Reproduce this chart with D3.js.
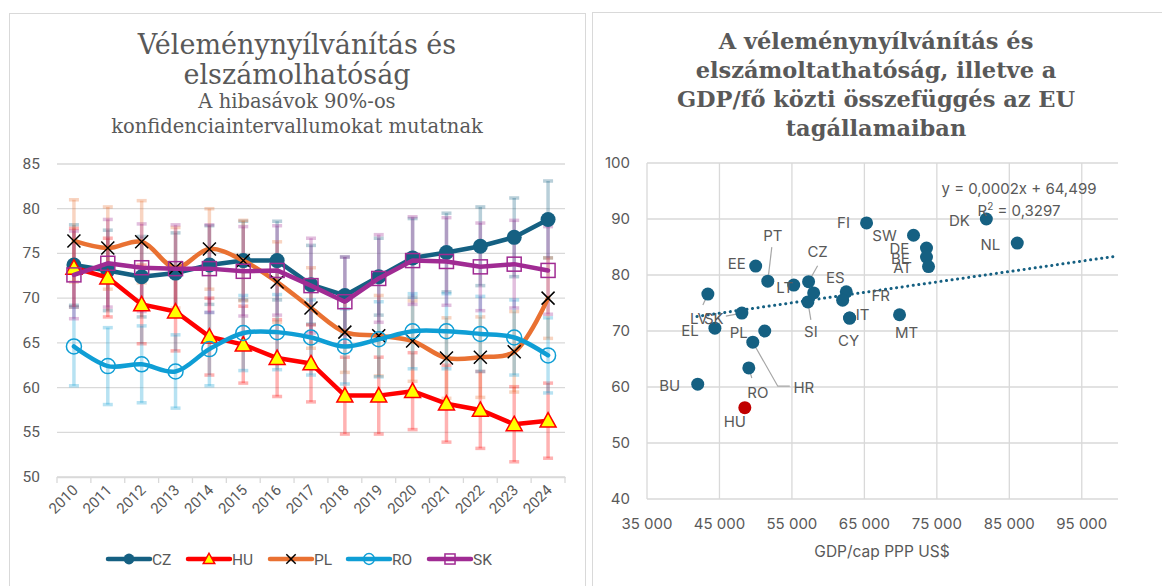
<!DOCTYPE html>
<html>
<head>
<meta charset="utf-8">
<script src="https://cdn.jsdelivr.net/npm/d3@7"></script>
<style>
body { margin: 0; background: #fff; }
text { fill: #595959; }
</style>
</head>
<body>
<div id="chart"></div>
<script>
var years = ["2010","2011","2012","2013","2014","2015","2016","2017","2018","2019","2020","2021","2022","2023","2024"]
var czVals = [73.7,73.1,72.4,72.8,73.7,74.2,74.2,71.5,70.3,72.4,74.5,75.1,75.8,76.8,78.8]
var huVals = [73.4,72.3,69.3,68.5,65.7,64.8,63.3,62.7,59.1,59.1,59.6,58.2,57.5,55.9,56.3]
var plVals = [76.4,75.6,76.3,73.4,75.5,74.2,71.8,68.9,66.2,65.8,65.2,63.3,63.4,64.0,70.0]
var roVals = [64.6,62.4,62.6,61.8,64.3,66.1,66.2,65.6,64.6,65.4,66.3,66.3,66.0,65.6,63.6]
var skVals = [72.6,73.9,73.4,73.3,73.3,73.0,73.1,71.4,69.6,72.2,74.2,74.1,73.5,73.8,73.1]
var czErr = [4.5,4.5,4.5,4.5,4.4,4.4,4.4,4.4,4.3,4.3,4.4,4.4,4.4,4.4,4.3]
var huErr = [4.4,4.4,4.4,4.4,4.3,4.3,4.3,4.3,4.3,4.3,4.3,4.3,4.3,4.2,4.2]
var plErr = [4.6,4.6,4.6,4.5,4.5,4.5,4.5,4.5,4.5,4.5,4.5,4.5,4.5,4.5,4.5]
var roErr = [4.4,4.3,4.3,4.1,4.1,4.2,4.2,4.2,4.2,4.2,4.2,4.2,4.2,4.2,4.2]
var skErr = [4.9,4.9,4.9,4.9,4.9,5.0,5.0,5.3,5.0,4.9,4.9,4.9,4.9,4.9,4.9]
var leftTicks = [50,55,60,65,70,75,80,85]

var countries = ["BU","HU","RO","HR","PL","SK","EL","LV","EE","PT","LT","CZ","SI","","ES","FR","IT","CY","MT","FI","SW","DE","BE","AT","DK","NL"]
var gdpVals = [42000,48500,49050,49600,51250,48090,44370,43400,50000,51670,55250,57300,57200,58000,62500,62000,62960,62960,69850,65300,71780,73570,73570,73850,81830,86100]
var voiceVals = [60.5,56.3,63.4,68.0,70.0,73.2,70.5,76.6,81.6,78.9,78.2,78.8,75.2,76.8,77.0,75.5,72.3,72.3,72.9,89.3,87.1,84.8,83.2,81.5,90.0,85.7]
var rightXTicks = [35000,45000,55000,65000,75000,85000,95000]
var rightYTicks = [40,50,60,70,80,90,100]
var trendSlope = 0.000186
var trendIntercept = 64.81
var trendX = [41900,100000]

// label placement (dx, dy from the point, optional leader end)
var labelPos = {
    BU: {dx:-28, dy:1}, HU: {dx:-10, dy:14}, RO: {dx:9, dy:25, lead:[3,10]},
    HR: {dx:51, dy:45, bend:[25,44], lead:[37,44]}, PL: {dx:-26, dy:1},
    SK: {dx:-28, dy:5, lead:[-16,3]}, EL: {dx:-25, dy:2}, LV: {dx:-9, dy:24, lead:[-5,11]},
    EE: {dx:-19, dy:-3}, PT: {dx:5, dy:-46, lead:[4,-34]}, LT: {dx:-9, dy:2},
    CZ: {dx:9, dy:-30, lead:[9,-16]}, SI: {dx:3, dy:30, lead:[3,18]},
    ES: {dx:-11, dy:-14}, FR: {dx:38, dy:-5}, IT: {dx:13, dy:-4}, CY: {dx:-1, dy:22},
    MT: {dx:7, dy:18}, FI: {dx:-23, dy:0}, SW: {dx:-29, dy:0}, DE: {dx:-27, dy:0},
    BE: {dx:-26, dy:1}, AT: {dx:-26, dy:1}, DK: {dx:-27, dy:1}, NL: {dx:-27, dy:1}
}

var series = [
    {name:"CZ", vals:czVals, err:czErr, color:"#156082", marker:"dot", smooth:false},
    {name:"HU", vals:huVals, err:huErr, color:"#FF0000", marker:"tri", smooth:false},
    {name:"PL", vals:plVals, err:plErr, color:"#E97132", marker:"x", smooth:true},
    {name:"RO", vals:roVals, err:roErr, color:"#0F9ED5", marker:"ring", smooth:true},
    {name:"SK", vals:skVals, err:skErr, color:"#A02B93", marker:"sq", smooth:false}
]

var svg = d3.select("#chart").append("svg").attr("width", 1162).attr("height", 586)

svg.append("rect").attr("x", 9.5).attr("y", 13.5).attr("width", 576).attr("height", 600)
    .attr("fill", "none").attr("stroke", "#d9d9d9")
svg.append("rect").attr("x", 592.5).attr("y", 12.5).attr("width", 600).attr("height", 600)
    .attr("fill", "none").attr("stroke", "#d9d9d9")

// ---- left chart
var x = d3.scaleBand().domain(years).range([57, 565])
var y = d3.scaleLinear().domain([50, 85]).range([477, 164])

var lt = svg.append("g").attr("font-family", "'DejaVu Serif', serif").attr("text-anchor", "middle")
lt.append("text").attr("x", 297).attr("y", 54).attr("font-size", 27).text("Véleménynyílvánítás és")
lt.append("text").attr("x", 297).attr("y", 84).attr("font-size", 27).text("elszámolhatóság")
lt.append("text").attr("x", 297).attr("y", 108).attr("font-size", 19.5).text("A hibasávok 90%-os")
lt.append("text").attr("x", 297).attr("y", 133).attr("font-size", 19.5).text("konfidenciaintervallumokat mutatnak")

svg.append("g").selectAll("line").data(leftTicks).enter().append("line")
    .attr("x1", 57).attr("x2", 565).attr("y1", function(d){return y(d)}).attr("y2", function(d){return y(d)})
    .attr("stroke", "#d9d9d9").attr("stroke-width", 1.3)

svg.append("g").selectAll("text").data(leftTicks).enter().append("text")
    .attr("x", 40).attr("y", function(d){return y(d) + 5})
    .attr("text-anchor", "end").attr("font-family", "Roboto, sans-serif").attr("font-size", 15.5)
    .text(function(d){return d})

var xAxis = svg.append("g").attr("transform", "translate(0,477)")
    .call(d3.axisBottom(x).tickSize(0).tickFormat(""))
xAxis.select(".domain").attr("stroke", "#d9d9d9").attr("stroke-width", 1.3)
xAxis.selectAll(".tick").remove()
svg.append("g").selectAll("line").data(years.concat(["end"])).enter().append("line")
    .attr("x1", function(d, i){return 57 + i * x.step()}).attr("x2", function(d, i){return 57 + i * x.step()})
    .attr("y1", 477).attr("y2", 483).attr("stroke", "#d9d9d9").attr("stroke-width", 1.3)
svg.append("g").selectAll("text").data(years).enter().append("text")
    .attr("transform", function(d){return "translate(" + (x(d) + x.bandwidth() / 2 + 5) + ",491) rotate(-45)"})
    .attr("text-anchor", "end").attr("font-family", "Roboto, sans-serif").attr("font-size", 15)
    .text(function(d){return d})

var cx = function(i){return x(years[i]) + x.bandwidth() / 2}

// error bars
series.forEach(function(s){
    var g = svg.append("g").attr("stroke", s.color).attr("stroke-opacity", 0.3).attr("stroke-width", 3.5)
    s.vals.forEach(function(v, i){
        var e = s.err[i]
        g.append("line").attr("x1", cx(i)).attr("x2", cx(i)).attr("y1", y(v - e)).attr("y2", y(v + e))
        g.append("line").attr("x1", cx(i) - 5).attr("x2", cx(i) + 5).attr("y1", y(v - e)).attr("y2", y(v - e))
        g.append("line").attr("x1", cx(i) - 5).attr("x2", cx(i) + 5).attr("y1", y(v + e)).attr("y2", y(v + e))
    })
})

function drawMarker(g, s, px, py, k){
    if (s.marker === "dot"){
        g.append("circle").attr("cx", px).attr("cy", py).attr("r", 7.5 * k).attr("fill", s.color)
    }
    else if (s.marker === "tri"){
        var h = 8 * k
        g.append("path").attr("d", "M" + px + "," + (py - h) + "L" + (px + h) + "," + (py + h * 0.8) + "L" + (px - h) + "," + (py + h * 0.8) + "Z")
            .attr("fill", "#FFFF00").attr("stroke", s.color).attr("stroke-width", 1.5)
    }
    else if (s.marker === "x"){
        var a = 6.5 * k
        g.append("path").attr("d", "M" + (px - a) + "," + (py - a) + "L" + (px + a) + "," + (py + a) + "M" + (px - a) + "," + (py + a) + "L" + (px + a) + "," + (py - a))
            .attr("stroke", "#000").attr("stroke-width", 1.5)
    }
    else if (s.marker === "ring"){
        g.append("circle").attr("cx", px).attr("cy", py).attr("r", 7.5 * k).attr("fill", "none")
            .attr("stroke", s.color).attr("stroke-width", 1.5)
    }
    else if (s.marker === "sq"){
        var b = 7 * k
        g.append("rect").attr("x", px - b).attr("y", py - b).attr("width", 2 * b).attr("height", 2 * b)
            .attr("fill", "none").attr("stroke", s.color).attr("stroke-width", 1.5)
    }
}

series.forEach(function(s){
    var line = d3.line().x(function(d, i){return cx(i)}).y(function(d){return y(d)})
        .curve(s.smooth ? d3.curveCatmullRom.alpha(0.5) : d3.curveLinear)
    var g = svg.append("g")
    g.append("path").attr("d", line(s.vals)).attr("fill", "none").attr("stroke", s.color)
        .attr("stroke-width", 4.5).attr("stroke-linejoin", "round").attr("stroke-linecap", "round")
    s.vals.forEach(function(v, i){drawMarker(g, s, cx(i), y(v), 1)})
})

// legend
var legendX = [108, 188, 270, 348, 429]
series.forEach(function(s, i){
    var g = svg.append("g")
    g.append("line").attr("x1", legendX[i]).attr("x2", legendX[i] + 42).attr("y1", 559).attr("y2", 559)
        .attr("stroke", s.color).attr("stroke-width", 4.5).attr("stroke-linecap", "round")
    drawMarker(g, s, legendX[i] + 21, 559, 0.72)
    g.append("text").attr("x", legendX[i] + 44).attr("y", 565).attr("font-family", "Roboto, sans-serif")
        .attr("font-size", 15.5).text(s.name)
})

// ---- right chart
var xr = d3.scaleLinear().domain([35000, 100000]).range([647, 1118])
var yr = d3.scaleLinear().domain([40, 100]).range([499, 163])
var fmt = d3.formatLocale({decimal:",", thousands:"\u00a0", grouping:[3], currency:["", ""]}).format(",")

var rt = svg.append("g").attr("font-family", "'DejaVu Serif', serif").attr("font-weight", "bold").attr("text-anchor", "middle")
rt.append("text").attr("x", 876).attr("y", 49).attr("font-size", 22.5).text("A véleménynyílvánítás és")
rt.append("text").attr("x", 876).attr("y", 78).attr("font-size", 22.5).text("elszámoltathatóság, illetve a")
rt.append("text").attr("x", 876).attr("y", 107).attr("font-size", 22.5).text("GDP/fő közti összefüggés az EU")
rt.append("text").attr("x", 876).attr("y", 136).attr("font-size", 22.5).text("tagállamaiban")

svg.append("g").selectAll("line").data(rightYTicks).enter().append("line")
    .attr("x1", 647).attr("x2", 1118).attr("y1", function(d){return yr(d)}).attr("y2", function(d){return yr(d)})
    .attr("stroke", "#d9d9d9").attr("stroke-width", 1.3)
svg.append("g").selectAll("line").data(rightXTicks).enter().append("line")
    .attr("y1", 163).attr("y2", 499).attr("x1", function(d){return xr(d)}).attr("x2", function(d){return xr(d)})
    .attr("stroke", "#d9d9d9").attr("stroke-width", 1.3)

svg.append("g").selectAll("text").data(rightYTicks).enter().append("text")
    .attr("x", 630).attr("y", function(d){return yr(d) + 5})
    .attr("text-anchor", "end").attr("font-family", "Inter, sans-serif").attr("font-size", 15)
    .text(function(d){return d})
svg.append("g").selectAll("text").data(rightXTicks).enter().append("text")
    .attr("x", function(d){return xr(d)}).attr("y", 529)
    .attr("text-anchor", "middle").attr("font-family", "Inter, sans-serif").attr("font-size", 15)
    .text(function(d){return fmt(d)})
svg.append("text").attr("x", 882).attr("y", 557).attr("text-anchor", "middle")
    .attr("font-family", "Inter, sans-serif").attr("font-size", 15.5).text("GDP/cap PPP US$")

// trendline
var trendLine = d3.line().x(function(d){return xr(d)}).y(function(d){return yr(trendIntercept + trendSlope * d)})
svg.append("path").attr("d", trendLine(trendX)).attr("fill", "none").attr("stroke", "#156082")
    .attr("stroke-width", 3).attr("stroke-dasharray", "0.1,5.5").attr("stroke-linecap", "round")

// leaders
var leaders = svg.append("g").attr("stroke", "#a6a6a6").attr("stroke-width", 1.2).attr("fill", "none")
countries.forEach(function(c, i){
    var p = labelPos[c]
    if (!p || !p.lead) return
    var px = xr(gdpVals[i]), py = yr(voiceVals[i])
    var pts = [[px, py]]
    if (p.bend) pts.push([px + p.bend[0], py + p.bend[1]])
    pts.push([px + p.lead[0], py + p.lead[1]])
    leaders.append("path").attr("d", d3.line()(pts))
})

svg.append("g").selectAll("circle").data(countries).enter().append("circle")
    .attr("cx", function(d, i){return xr(gdpVals[i])}).attr("cy", function(d, i){return yr(voiceVals[i])})
    .attr("r", 6.5).attr("fill", function(d){return d === "HU" ? "#C00000" : "#156082"})

svg.append("g").selectAll("text").data(countries).enter().append("text")
    .attr("x", function(d, i){return xr(gdpVals[i]) + (labelPos[d] ? labelPos[d].dx : 0)})
    .attr("y", function(d, i){return yr(voiceVals[i]) + (labelPos[d] ? labelPos[d].dy : 0) + 5.5})
    .attr("text-anchor", "middle").attr("font-family", "Inter, sans-serif").attr("font-size", 15)
    .text(function(d){return d})

var eq = svg.append("g").attr("font-family", "Inter, sans-serif").attr("font-size", 15).attr("text-anchor", "middle")
eq.append("text").attr("x", 1019).attr("y", 194).text("y = 0,0002x + 64,499")
var r2 = eq.append("text").attr("x", 1019).attr("y", 216)
r2.append("tspan").text("R")
r2.append("tspan").attr("dy", -6).attr("font-size", 10).text("2")
r2.append("tspan").attr("dy", 6).text(" = 0,3297")
</script>
</body>
</html>
